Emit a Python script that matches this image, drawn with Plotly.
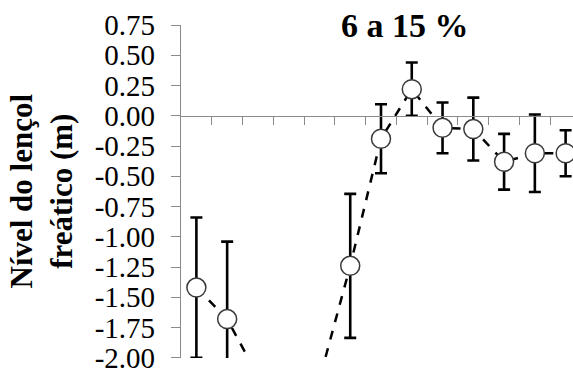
import plotly.graph_objects as go

# Water-table level per sampling position (m), with +/- error
positions = list(range(13))
levels = [-1.42, -1.68, -2.15, -2.50, -2.18, -1.24, -0.19, 0.22, -0.10, -0.11, -0.38, -0.31, -0.31]
errors = [0.58, 0.64, 0.10, 0.30, 0.10, 0.595, 0.285, 0.22, 0.21, 0.26, 0.23, 0.32, 0.19]

y_ticks = [0.75, 0.50, 0.25, 0.00, -0.25, -0.50, -0.75, -1.00, -1.25, -1.50, -1.75, -2.00]
y_tick_text = ["0.75", "0.50", "0.25", "0.00", "-0.25", "-0.50", "-0.75",
               "-1.00", "-1.25", "-1.50", "-1.75", "-2.00"]
x_ticks = [i + 0.5 for i in range(12)]

title_text = "6 a 15 %"
y_title = "Nível do lençol<br>freático (m)"

AXIS_GREY = "#8a8a8a"
SERIF = "'Times New Roman', Times, 'Liberation Serif', 'DejaVu Serif', serif"

fig = go.Figure()
fig.add_trace(go.Scatter(
    x=positions, y=levels,
    mode="lines+markers",
    line=dict(color="black", width=2.5, dash="dash"),
    marker=dict(size=19, color="white", line=dict(color="#3a3a3a", width=1.5)),
    error_y=dict(type="data", array=errors, visible=True,
                 color="black", thickness=2.6, width=6),
    cliponaxis=True,
    showlegend=False,
))

y_min, y_max = -2.0015, 0.75
fig.update_layout(
    width=573, height=374,
    margin=dict(l=181, r=0, t=25, b=16),
    paper_bgcolor="white", plot_bgcolor="white",
    font=dict(family=SERIF, color="black"),
    xaxis=dict(
        range=[-0.5, 12.24],
        anchor="free", position=(0 - y_min) / (y_max - y_min),
        showline=True, linecolor=AXIS_GREY, linewidth=1.3,
        tickvals=x_ticks, ticks="outside", ticklen=8, tickcolor=AXIS_GREY, tickwidth=1.3,
        showticklabels=False, showgrid=False, zeroline=False,
    ),
    yaxis=dict(
        range=[y_min, y_max],
        tickvals=y_ticks, ticktext=y_tick_text,
        showline=True, linecolor=AXIS_GREY, linewidth=1.3,
        ticks="outside", ticklen=9, tickcolor=AXIS_GREY, tickwidth=1.3,
        tickfont=dict(family=SERIF, size=29, color="black"),
        ticklabelstandoff=10,
        showgrid=False, zeroline=False,
    ),
    annotations=[
        dict(text="<b>" + title_text + "</b>", xref="paper", yref="paper",
             x=(405 - 181) / 392, y=1.0, xanchor="center", yanchor="middle",
             showarrow=False, font=dict(family=SERIF, size=34, color="black")),
        dict(text="<b>" + y_title + "</b>", xref="paper", yref="paper",
             x=(41 - 181) / 392, y=0.5, xanchor="center", yanchor="middle",
             textangle=-90, showarrow=False,
             font=dict(family=SERIF, size=31, color="black")),
    ],
)

fig.write_html("out.html")
